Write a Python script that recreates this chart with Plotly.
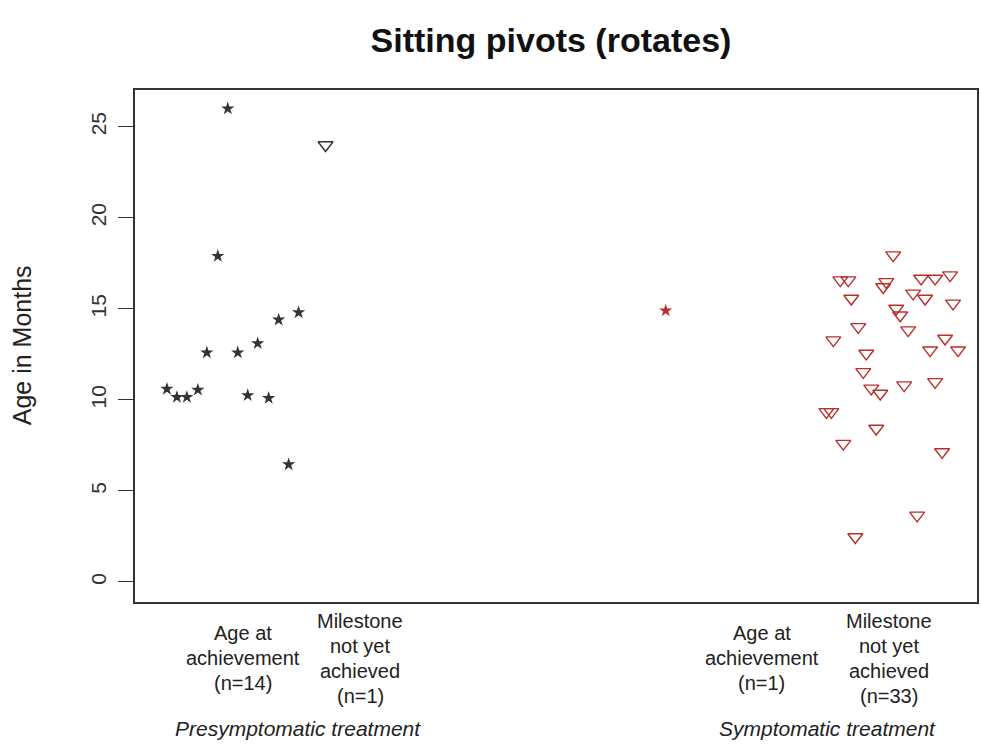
import plotly.graph_objects as go

# ---------------- data ----------------
title_text = "Sitting pivots (rotates)"
y_title = "Age in Months"
y_ticks = [0, 5, 10, 15, 20, 25]

# Presymptomatic treatment – age at achievement (n=14), jittered x positions
pre_ach_x = [0.32, 0.42, 0.52, 0.63, 0.72, 0.83, 0.93, 1.03, 1.13, 1.23, 1.34, 1.44, 1.54, 1.64]
pre_ach_y = [10.6, 10.15, 10.15, 10.55, 12.6, 17.9, 26.0, 12.6, 10.25, 13.1, 10.1, 14.4, 6.45, 14.8]

# Presymptomatic treatment – milestone not yet achieved (n=1)
pre_not_x = [1.91]
pre_not_y = [24.0]

# Symptomatic treatment – age at achievement (n=1)
sym_ach_x = [5.32]
sym_ach_y = [14.9]

# Symptomatic treatment – milestone not yet achieved (n=33)
sym_not_x = [7.60, 7.07, 7.15, 7.53, 7.50, 7.88, 8.02, 8.17, 7.18, 7.80, 7.92,
             8.20, 7.63, 7.67, 7.75, 7.25, 7.00, 8.12, 7.97, 8.25, 7.33, 7.30,
             7.38, 7.47, 7.71, 8.02, 6.93, 6.98, 7.43, 7.10, 8.09, 7.84, 7.22]
sym_not_y = [17.95, 16.58, 16.58, 16.48, 16.2, 16.67, 16.67, 16.85, 15.57, 15.85, 15.57,
             15.3, 15.02, 14.65, 13.83, 14.01, 13.28, 13.37, 12.73, 12.73, 12.55, 11.54,
             10.63, 10.35, 10.81, 10.99, 9.34, 9.34, 8.43, 7.6, 7.14, 3.66, 2.47]

# Category labels under the plot
cat_labels = ["Age at\nachievement\n(n=14)", "Milestone\nnot yet\nachieved\n(n=1)",
              "Age at\nachievement\n(n=1)", "Milestone\nnot yet\nachieved\n(n=33)"]
cat_x = [1.08, 2.26, 6.28, 7.56]
group_labels = ["Presymptomatic treatment", "Symptomatic treatment"]
group_x = [1.63, 6.94]

# ---------------- styling ----------------
W, H = 981, 744
L, R, T, B = 135, 2, 90, 142
plot_h = H - T - B
FONT = "Liberation Sans, Arial, sans-serif"
BLACK = "#333333"
RED = "#B8302C"

def py_to_paper(py):
    return (H - B - py) / plot_h

fig = go.Figure()

fig.add_trace(go.Scatter(x=pre_ach_x, y=pre_ach_y, mode="markers",
                         marker=dict(symbol="star", size=10, color=BLACK,
                                     line=dict(width=0)), showlegend=False))
fig.add_trace(go.Scatter(x=pre_not_x, y=pre_not_y, mode="markers",
                         marker=dict(symbol="triangle-down-open", size=13, color=BLACK,
                                     line=dict(width=1.4, color=BLACK)), showlegend=False))
fig.add_trace(go.Scatter(x=sym_ach_x, y=sym_ach_y, mode="markers",
                         marker=dict(symbol="star", size=10, color=RED,
                                     line=dict(width=0)), showlegend=False))
fig.add_trace(go.Scatter(x=sym_not_x, y=sym_not_y, mode="markers",
                         marker=dict(symbol="triangle-down-open", size=13, color=RED,
                                     line=dict(width=1.4, color=RED)), showlegend=False))

annotations = []
# y-axis title
annotations.append(dict(text=y_title, xref="paper", yref="paper",
                        x=(22 - L) / (W - L - R), y=0.502, textangle=-90,
                        showarrow=False, xanchor="center", yanchor="middle",
                        font=dict(family=FONT, size=25, color="#222222")))
# category labels, one annotation per line
line_gap = 25
for lab, xc in zip(cat_labels, cat_x):
    lines = lab.split("\n")
    n = len(lines)
    for i, ln in enumerate(lines):
        pyc = 658 + (i - (n - 1) / 2) * line_gap
        annotations.append(dict(text=ln, xref="x", yref="paper", x=xc,
                                y=py_to_paper(pyc), showarrow=False,
                                xanchor="center", yanchor="middle",
                                font=dict(family=FONT, size=20, color="#222222")))
for lab, xc in zip(group_labels, group_x):
    annotations.append(dict(text="<i>" + lab + "</i>", xref="x", yref="paper", x=xc,
                            y=py_to_paper(728), showarrow=False,
                            xanchor="center", yanchor="middle",
                            font=dict(family=FONT, size=21, color="#222222")))

fig.update_layout(
    width=W, height=H,
    margin=dict(l=L, r=R, t=T, b=B),
    paper_bgcolor="white", plot_bgcolor="white",
    hovermode=False,
    title=dict(text="<b>" + title_text + "</b>", xref="container", yref="container",
               x=551 / W, y=1 - 40 / H, xanchor="center", yanchor="middle",
               font=dict(family=FONT, size=34, color="#111111")),
    xaxis=dict(range=[0, 8.44], showgrid=False, zeroline=False, showticklabels=False,
               ticks="", showline=True, linecolor="#333333", linewidth=1.6, mirror=True),
    yaxis=dict(range=[-1.1, 27.02], tickvals=y_ticks, ticktext=[str(v) for v in y_ticks],
               showgrid=False, zeroline=False, ticks="outside", ticklen=15, tickwidth=1.4,
               tickcolor="#333333", tickangle=-90, showline=True, linecolor="#333333",
               linewidth=1.6, mirror=True, ticklabelstandoff=4,
               tickfont=dict(family=FONT, size=21, color="#333333")),
    annotations=annotations,
)

fig.write_html("out.html", config={"displayModeBar": False},
               post_script="document.body.style.margin='0';document.body.style.overflow='hidden';")
